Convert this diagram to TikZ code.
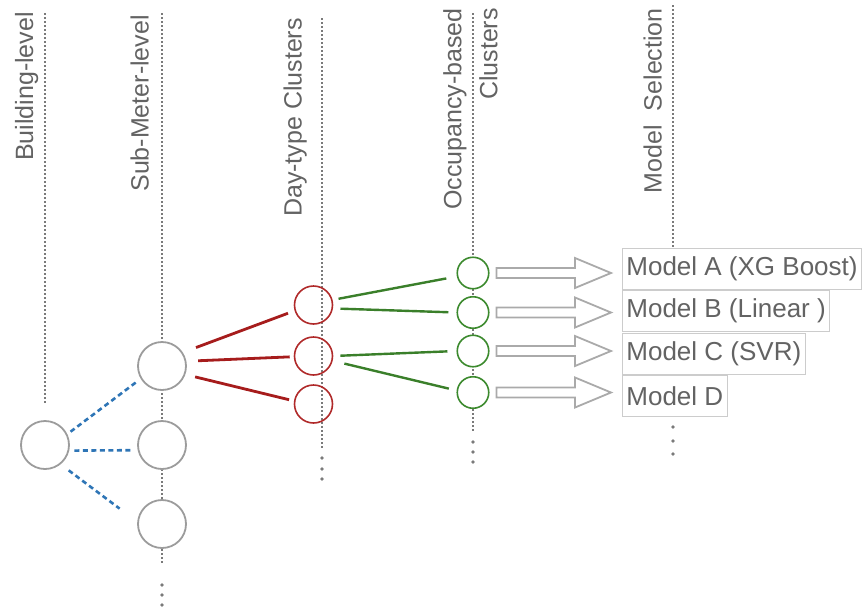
\documentclass[tikz,border=0pt]{standalone}
\usepackage{fontspec}
\setmainfont{Liberation Sans}
\usetikzlibrary{calc}
\definecolor{txt}{HTML}{636363}
\definecolor{dotc}{HTML}{7A7A7A}
\definecolor{circg}{HTML}{9C9C9C}
\definecolor{circr}{HTML}{B02A2A}
\definecolor{liner}{HTML}{A61C1C}
\definecolor{circgr}{HTML}{3C8A2E}
\definecolor{linegr}{HTML}{3A7F2A}
\definecolor{lineb}{HTML}{2E75B6}
\definecolor{boxc}{HTML}{CCCCCC}
\definecolor{arrc}{HTML}{AAAAAA}
\newcommand\hollowarrow[2]{%
  \draw[harrow] let \p1=($(#1.east)+(7,0)$), \p2=($(#2.west)+(-11,0)$) in
  (\x1,\y1+5pt) -- (\x2-36pt,\y1+5pt) -- (\x2-36pt,\y1+15pt) -- (\x2,\y1)
  -- (\x2-36pt,\y1-15pt) -- (\x2-36pt,\y1-5pt) -- (\x1,\y1-5pt) -- cycle;}
\begin{document}
\begin{tikzpicture}[x=1pt,y=-1pt,
  vline/.style={draw=dotc, line width=1.5pt, dash pattern=on 1.5pt off 2.5pt},
  lab/.style={rotate=90, anchor=base east, text=txt, font=\fontsize{25}{36}\selectfont, inner sep=0pt},
  gcirc/.style={circle, draw=circg, line width=1.8pt, fill=white, minimum size=48pt, inner sep=0pt},
  rcirc/.style={circle, draw=circr, line width=1.6pt, minimum size=38pt, inner sep=0pt},
  gncirc/.style={circle, draw=circgr, line width=1.6pt, fill=white, minimum size=31.5pt, inner sep=0pt},
  mbox/.style={draw=boxc, line width=0.8pt, fill=white, text=txt, font=\fontsize{26}{30}\selectfont,
    minimum height=41pt, inner xsep=4pt, inner ysep=0pt, anchor=west},
  harrow/.style={draw=arrc, line width=1.8pt, fill=white, line join=miter},
  bluel/.style={draw=lineb, line width=2.6pt, dash pattern=on 5pt off 3.5pt},
  redl/.style={draw=liner, line width=2.8pt},
  grl/.style={draw=linegr, line width=2.4pt}]
\useasboundingbox (0,0) rectangle (867,608);

% guide lines
\draw[vline] (45,13) -- (45,403);
\draw[vline] (162,13) -- (162,565);
\draw[vline] (322,18) -- (322,448);
\draw[vline] (473,13) -- (473,433);
\draw[vline] (673,5) -- (673,416);
\foreach \yy in {585,595,605} \fill[dotc] (162,\yy) circle (1.8pt);
\foreach \yy in {458,469,479} \fill[dotc] (322,\yy) circle (1.8pt);
\foreach \yy in {442,452,462} \fill[dotc] (473,\yy) circle (1.8pt);
\foreach \yy in {427,441,454} \fill[dotc] (673,\yy) circle (1.8pt);

% labels
\node[lab] (lb) at (33,12) {Building-level};
\node[lab] (ls) at (148.5,15) {Sub-Meter-level};
\node[lab] (ld) at (301.5,18) {Day-type Clusters};
\node[lab, anchor=north east, align=right] (lo) at (443,8) {Occupancy-based\\Clusters};
\node[lab] (lm) at (661.5,8) {Model\ \ Selection};

% circles
\node[gcirc] (b) at (45,445) {};
\node[gcirc] (s1) at (162,366) {};
\node[gcirc] (s2) at (162,445) {};
\node[gcirc] (s3) at (162,524) {};
\node[rcirc] (r1) at (313.5,305) {};
\node[rcirc] (r2) at (313.5,356) {};
\node[rcirc] (r3) at (313.5,404) {};
\node[gncirc] (g1) at (473,273) {};
\node[gncirc] (g2) at (473,312.5) {};
\node[gncirc] (g3) at (473,351) {};
\node[gncirc] (g4) at (473,392.5) {};

% model boxes
\node[mbox] (mA) at (622,268.5) {Model A (XG Boost)};
\node[mbox] (mB) at (622,311) {Model B (Linear )};
\node[mbox] (mC) at (622,353.5) {Model C (SVR)};
\node[mbox] (mD) at (622,396) {Model D};

% blue dashed connectors
\draw[bluel, shorten <=4pt, shorten >=5.5pt] (b.26.6) -- (s1.211.6);
\draw[bluel, shorten <=5pt, shorten >=7pt] (b.-13.6) -- (s2.192.7);
\draw[bluel, shorten <=10pt, shorten >=22pt] (b.-51.8) -- (s3.175);

% red connectors
\draw[redl, shorten <=14pt, shorten >=7pt] (s1.33.7) -- (r1.197);
\draw[redl, shorten <=11.7pt, shorten >=4pt] (s1.11) -- (r2.182);
\draw[redl, shorten <=10pt, shorten >=5pt] (s1.-20) -- (r3.171);

% green connectors
\draw[grl, shorten <=6pt, shorten >=10.7pt] (r1.15.6) -- (g1.192.5);
\draw[grl, shorten <=7.5pt, shorten >=8pt] (r1.-10.5) -- (g2.180);
\draw[grl, shorten <=7pt, shorten >=9pt] (r2.0) -- (g3.180);
\draw[grl, shorten <=12pt, shorten >=8pt] (r2.-14.5) -- (g4.173);

% hollow arrows
\hollowarrow{g1}{mA}
\hollowarrow{g2}{mB}
\hollowarrow{g3}{mC}
\hollowarrow{g4}{mD}
\end{tikzpicture}
\end{document}
